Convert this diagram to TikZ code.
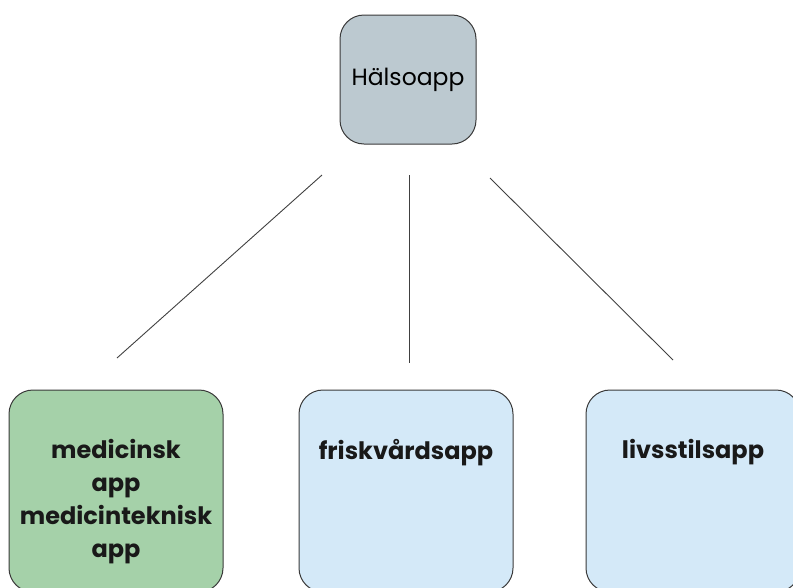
\documentclass[tikz,border=0pt]{standalone}
\usepackage{fontspec}
\setmainfont{Poppins}
\usetikzlibrary{positioning}
\definecolor{topgray}{HTML}{BCC9D0}
\definecolor{medgreen}{HTML}{A5D1A9}
\definecolor{appblue}{HTML}{D4E9F8}
\definecolor{edgegray}{HTML}{3A3A3A}
\tikzset{
  appbox/.style={draw=edgegray, line width=1pt, rounded corners=24pt,
    minimum width=214pt, minimum height=202pt, inner sep=0pt},
  topbox/.style={appbox, fill=topgray, minimum width=136pt, minimum height=129pt,
    font=\fontsize{23.5}{28}\selectfont},
  applbl/.style={align=center, inner sep=0pt, text=black!90,
    font=\fontsize{24}{33}\selectfont\bfseries},
  link/.style={draw=black!75, line width=0.9pt}
}
\begin{document}
\begin{tikzpicture}[x=1pt, y=-1pt]
    \useasboundingbox (0,0) rectangle (793,587);
    % boxes
    \node[topbox] (halso) at (408,79.5) {Hälsoapp};
    \node[appbox, fill=medgreen] (med) at (116,491) {};
    \node[appbox, fill=appblue] (frisk) at (406,491) {};
    \node[appbox, fill=appblue] (livs) at (693,491) {};
    % texts
    \node[applbl, below=50pt of med.north] (medtxt) {medicinsk\\app\\medicinteknisk\\app};
    \node[applbl, below=50pt of frisk.north] (frisktxt) {friskvårdsapp};
    \node[applbl, below=50pt of livs.north] (livstxt) {livsstilsapp};
    % connector ends
    \coordinate (l1a) at (322,175);
    \coordinate (l1b) at (117,358);
    \coordinate (l2a) at (409,175);
    \coordinate (l2b) at (409,363);
    \coordinate (l3a) at (490,178);
    \coordinate (l3b) at (673,360);
    \draw[link] (l1a) -- (l1b);
    \draw[link] (l2a) -- (l2b);
    \draw[link] (l3a) -- (l3b);
\end{tikzpicture}
\end{document}
